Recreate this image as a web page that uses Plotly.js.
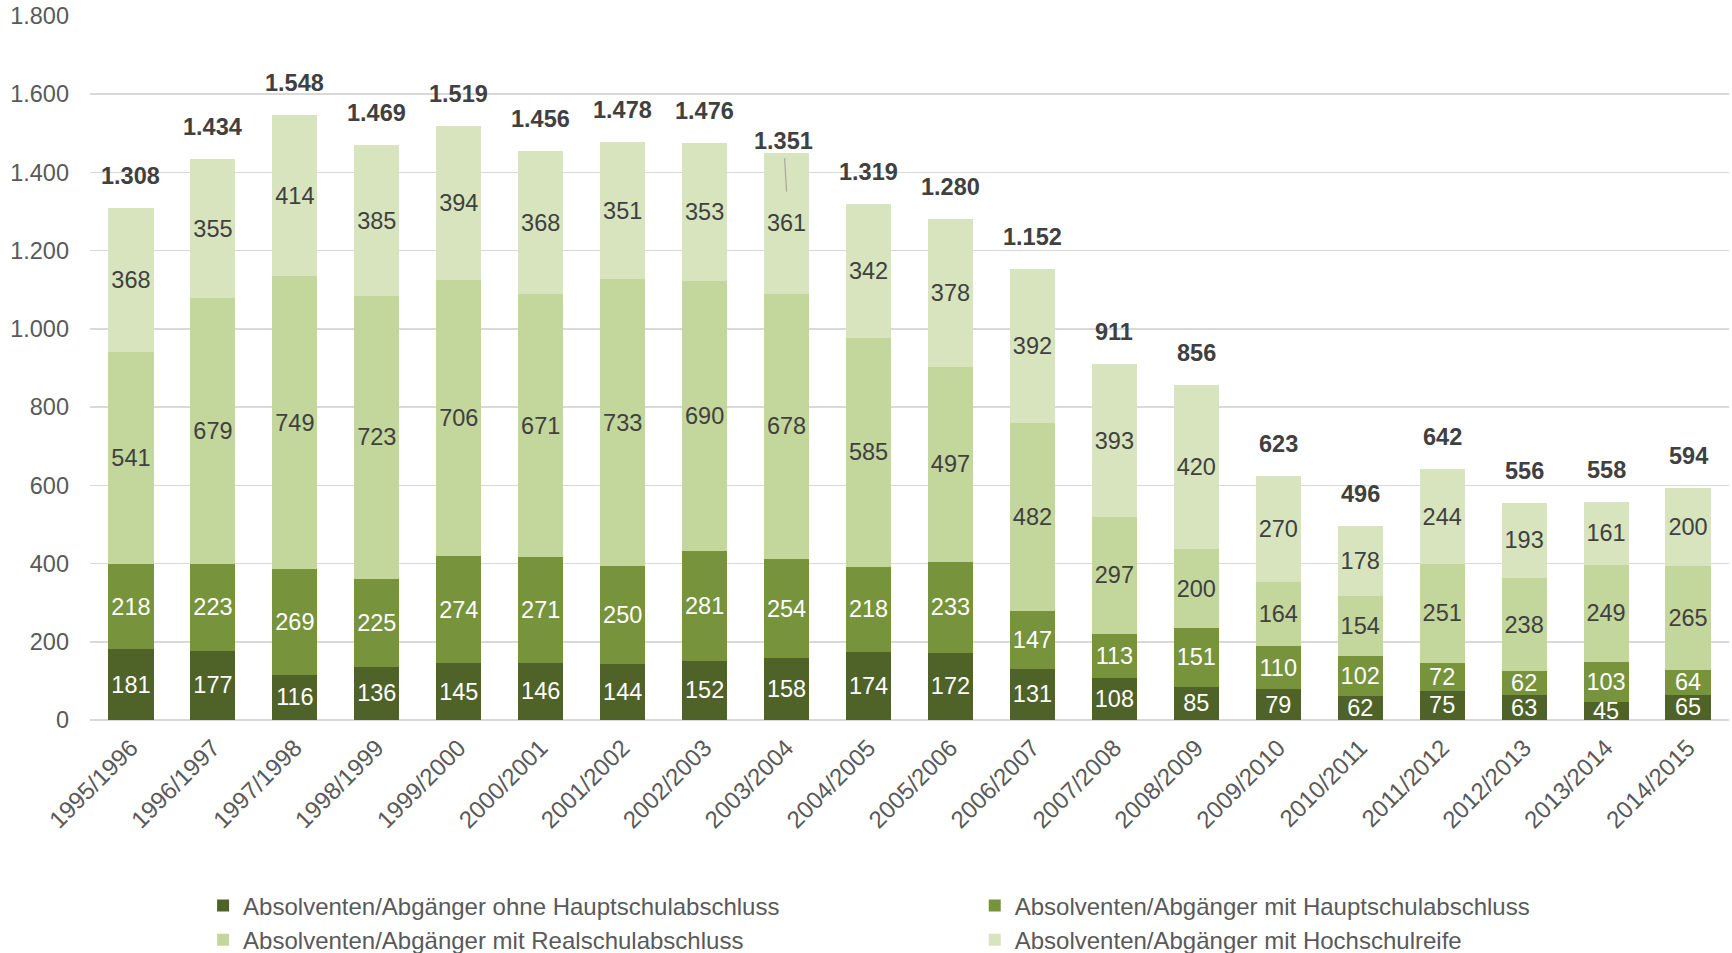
<!DOCTYPE html>
<html>
<head>
<meta charset="utf-8">
<script src="https://cdn.plot.ly/plotly-3.0.1.min.js"></script>
<style>
  html, body { margin: 0; padding: 0; background: #ffffff; }
  #chart { width: 1732px; height: 953px; }
</style>
</head>
<body>
<div id="chart"></div>
<script>
// ---- Data ----
const years = ["1995/1996","1996/1997","1997/1998","1998/1999","1999/2000","2000/2001","2001/2002","2002/2003","2003/2004","2004/2005","2005/2006","2006/2007","2007/2008","2008/2009","2009/2010","2010/2011","2011/2012","2012/2013","2013/2014","2014/2015"];
const ohneHauptschul = [181,177,116,136,145,146,144,152,158,174,172,131,108,85,79,62,75,63,45,65];
const mitHauptschul  = [218,223,269,225,274,271,250,281,254,218,233,147,113,151,110,102,72,62,103,64];
const mitRealschul   = [541,679,749,723,706,671,733,690,678,585,497,482,297,200,164,154,251,238,249,265];
const mitHochschul   = [368,355,414,385,394,368,351,353,361,342,378,392,393,420,270,178,244,193,161,200];
const totalLabels    = [1308,1434,1548,1469,1519,1456,1478,1476,1351,1319,1280,1152,911,856,623,496,642,556,558,594];

const seriesNames = [
  "Absolventen/Abgänger ohne Hauptschulabschluss",
  "Absolventen/Abgänger mit Hauptschulabschluss",
  "Absolventen/Abgänger mit Realschulabschluss",
  "Absolventen/Abgänger mit Hochschulreife"
];

// ---- Styles ----
const FONT = "Liberation Sans, Arial, sans-serif";
const colors = ["#4F6228", "#77933C", "#C3D69B", "#D7E4BD"];
const labelColors = ["#FFFFFF", "#FFFFFF", "#404040", "#404040"];
const legendOf = ["legend", "legend2", "legend", "legend2"];
const seriesValues = [ohneHauptschul, mitHauptschul, mitRealschul, mitHochschul];

function fmt(v) { return String(v).replace(/\B(?=(\d{3})+(?!\d))/g, "."); }

const traces = seriesValues.map((vals, k) => ({
  type: "bar",
  name: seriesNames[k],
  legend: legendOf[k],
  x: years,
  y: vals,
  marker: { color: colors[k] },
  texttemplate: "%{y}",
  textposition: "inside",
  insidetextanchor: "middle",
  constraintext: "none",
  textangle: 0,
  textfont: { family: FONT, size: 23.5, color: labelColors[k] },
  cliponaxis: false,
  hoverinfo: "x+y+name"
}));

const stackTops = years.map((_, i) => seriesValues.reduce((s, arr) => s + arr[i], 0));

const annotations = years.map((yr, i) => {
  const base = {
    x: yr,
    text: "<b>" + fmt(totalLabels[i]) + "</b>",
    font: { family: FONT, size: 23.5, color: "#404040" },
    xref: "x", yref: "y"
  };
  if (totalLabels[i] === stackTops[i]) {
    return Object.assign(base, { y: stackTops[i], yanchor: "bottom", yshift: 17, showarrow: false });
  }
  // label placed above the bar with a leader line to its value
  return Object.assign(base, {
    y: totalLabels[i], showarrow: true, arrowhead: 0, arrowwidth: 1.2,
    arrowcolor: "#A6A6A6", ax: -3, ay: -51, startstandoff: 3
  });
});

const legendStyle = {
  orientation: "v",
  y: -0.2321, yanchor: "top",
  xanchor: "left",
  tracegroupgap: 0,
  traceorder: "normal",
  bgcolor: "rgba(0,0,0,0)",
  font: { family: FONT, size: 24, color: "#595959" }
};

const layout = {
  width: 1732,
  height: 953,
  margin: { l: 90, r: 3, t: 16, b: 233, autoexpand: false },
  paper_bgcolor: "#FFFFFF",
  plot_bgcolor: "#FFFFFF",
  separators: ",.",
  barmode: "stack",
  bargap: 0.45,
  font: { family: FONT, size: 23, color: "#595959" },
  showlegend: true,
  legend: Object.assign({}, legendStyle, { x: 0.069 }),
  legend2: Object.assign({}, legendStyle, { x: 0.5398 }),
  xaxis: {
    type: "category",
    tickangle: -45,
    tickfont: { family: FONT, size: 24, color: "#595959" },
    showgrid: false,
    showline: false,
    ticks: "",
    ticklabelstandoff: 8,
    automargin: false
  },
  yaxis: {
    range: [0, 1800],
    dtick: 200,
    tickformat: ",d",
    tickfont: { family: FONT, size: 23.5, color: "#595959" },
    showgrid: true,
    gridcolor: "#D9D9D9",
    gridwidth: 1.5,
    zeroline: true,
    zerolinecolor: "#D9D9D9",
    zerolinewidth: 1.5,
    ticks: "",
    ticklabelstandoff: 20,
    automargin: false
  },
  annotations: annotations
};

Plotly.newPlot("chart", traces, layout, { displayModeBar: false, staticPlot: true });
</script>
</body>
</html>
